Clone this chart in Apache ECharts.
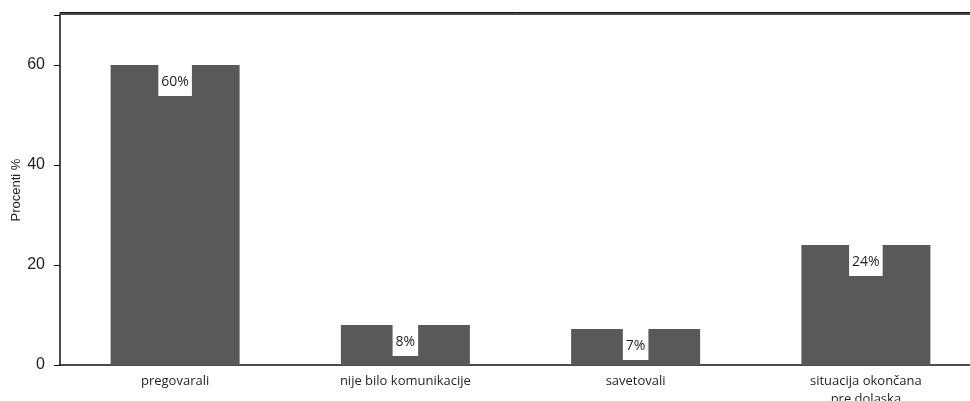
<!DOCTYPE html>
<html>
<head>
<meta charset="utf-8">
<script src="https://cdn.jsdelivr.net/npm/echarts@6/dist/echarts.min.js"></script>
<style>html,body{margin:0;padding:0;background:#fff}#c{width:970px;height:401px}</style>
</head>
<body>
<div id="c"></div>
<script>
const categories = ['pregovarali', 'nije bilo komunikacije', 'savetovali', 'situacija okončana\npre dolaska'];
const values = [60, 8, 7.2, 24];
const labels = ['60%', '8%', '7%', '24%'];
const yTicks = [0, 20, 40, 60];

const chart = echarts.init(document.getElementById('c'), null, {renderer: 'canvas'});
const lineCol = '#111';
chart.setOption({
  animation: false,
  grid: {left: 60, right: -11, top: 15, bottom: 36, containLabel: false, outerBoundsMode: 'none'},
  xAxis: [{
    type: 'category', data: categories, boundaryGap: true,
    axisLine: {lineStyle: {color: lineCol, width: 1.5}},
    axisTick: {alignWithLabel: true, length: 5, lineStyle: {color: lineCol}},
    axisLabel: {margin: 7, fontFamily: 'Open Sans', fontSize: 13, color: '#231f20', lineHeight: 18, interval: 0}
  }, {
    type: 'category', data: categories, position: 'top', offset: 1,
    axisLine: {show: true, lineStyle: {color: lineCol, width: 1.5}},
    axisTick: {show: false}, axisLabel: {show: false}
  }, {
    type: 'category', data: categories, position: 'top', offset: 3,
    axisLine: {show: true, lineStyle: {color: lineCol, width: 1}},
    axisTick: {show: false}, axisLabel: {show: false}
  }],
  yAxis: {
    type: 'value', min: 0, max: 70, interval: 20,
    name: 'Procenti %', nameLocation: 'middle', nameGap: 37, nameMoveOverlap: false,
    nameTextStyle: {fontFamily: 'Liberation Sans', fontSize: 13, color: '#231f20'},
    axisLine: {show: true, lineStyle: {color: lineCol, width: 1.5}},
    axisTick: {show: true, length: 6, lineStyle: {color: lineCol}},
    axisLabel: {margin: 15, fontFamily: 'Liberation Sans', fontSize: 16, color: '#231f20',
      formatter: v => yTicks.includes(v) ? String(v) : ''},
    splitLine: {show: false}
  },
  series: [{
    type: 'bar', data: values, barWidth: 129,
    itemStyle: {color: '#58595b'},
    label: {
      show: true, position: 'insideTop', distance: 0,
      formatter: p => labels[p.dataIndex],
      backgroundColor: '#fff', padding: [10, 3, 7, 3],
      fontFamily: 'Open Sans', fontSize: 14, color: '#231f20'
    }
  }]
});
</script>
</body>
</html>
